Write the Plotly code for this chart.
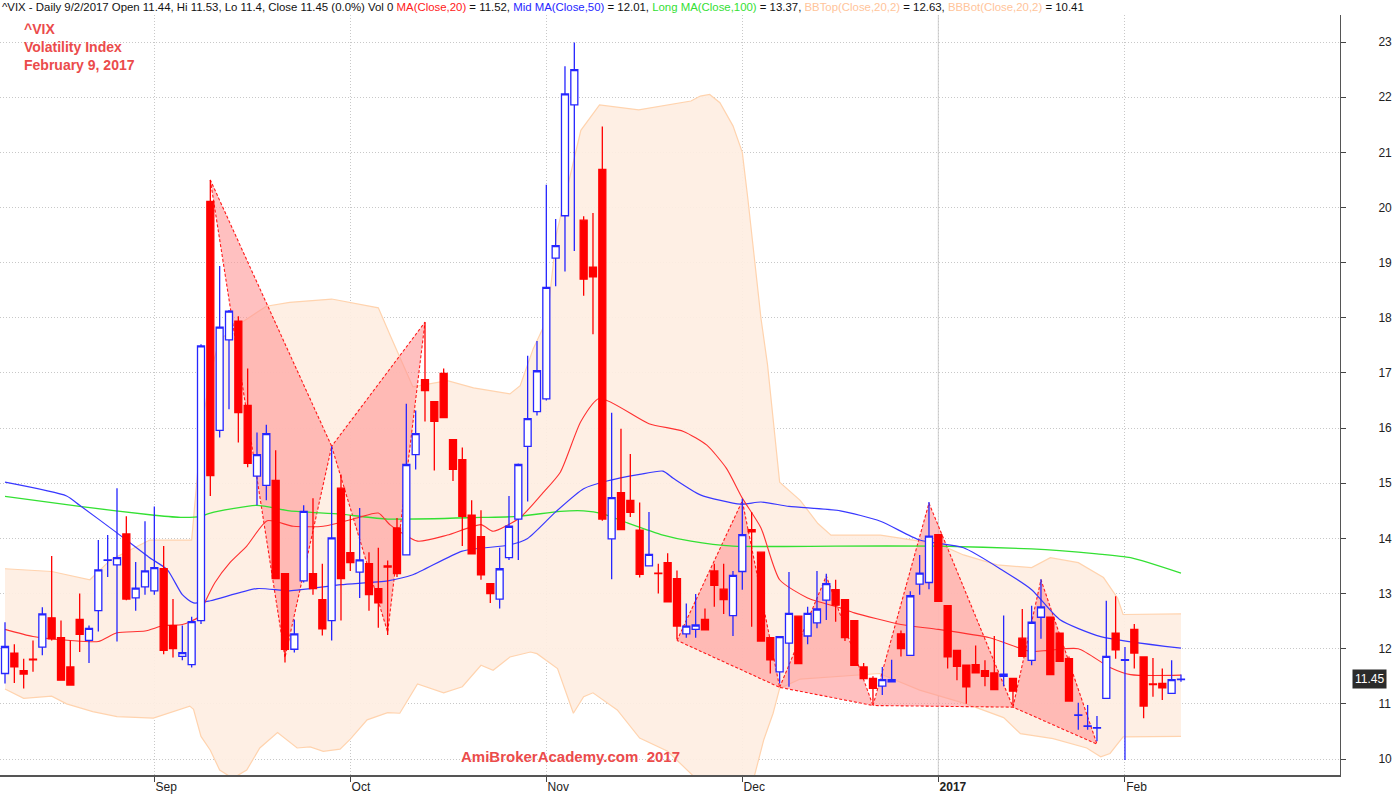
import plotly.graph_objects as go

# ---------------- data ----------------
dates = ["Aug10","Aug11","Aug12","Aug15","Aug16","Aug17","Aug18","Aug19","Aug22","Aug23",
         "Aug24","Aug25","Aug26","Aug29","Aug30","Aug31","Sep1","Sep2","Sep6","Sep7",
         "Sep8","Sep9","Sep12","Sep13","Sep14","Sep15","Sep16","Sep19","Sep20","Sep21",
         "Sep22","Sep23","Sep26","Sep27","Sep28","Sep29","Sep30","Oct3","Oct4","Oct5",
         "Oct6","Oct7","Oct10","Oct11","Oct12","Oct13","Oct14","Oct17","Oct18","Oct19",
         "Oct20","Oct21","Oct24","Oct25","Oct26","Oct27","Oct28","Oct31","Nov1","Nov2",
         "Nov3","Nov4","Nov7","Nov8","Nov9","Nov10","Nov11","Nov14","Nov15","Nov16",
         "Nov17","Nov18","Nov21","Nov22","Nov23","Nov25","Nov28","Nov29","Nov30","Dec1",
         "Dec2","Dec5","Dec6","Dec7","Dec8","Dec9","Dec12","Dec13","Dec14","Dec15",
         "Dec16","Dec19","Dec20","Dec21","Dec22","Dec23","Dec27","Dec28","Dec29","Dec30",
         "Jan3","Jan4","Jan5","Jan6","Jan9","Jan10","Jan11","Jan12","Jan13","Jan17",
         "Jan18","Jan19","Jan20","Jan23","Jan24","Jan25","Jan26","Jan27","Jan30","Jan31",
         "Feb1","Feb2","Feb3","Feb6","Feb7","Feb8","Feb9"]

opens = [11.55,11.92,11.60,11.81,12.03,12.56,12.20,11.67,12.53,12.15,
         12.69,13.60,13.52,14.08,12.92,13.12,13.05,13.45,12.42,11.86,
         11.71,12.51,20.11,15.96,17.60,17.94,16.41,15.13,14.96,15.05,
         13.36,11.99,13.23,13.36,12.89,12.51,14.91,13.74,13.39,13.54,
         13.09,13.50,14.19,13.70,15.52,16.88,16.48,16.99,15.79,15.43,
         14.42,14.03,13.18,12.90,13.65,14.35,15.67,16.30,16.53,19.08,
         19.85,21.86,19.77,18.92,20.69,13.99,14.83,14.69,14.15,13.50,
         13.37,13.56,13.27,12.27,12.35,12.53,13.41,13.08,12.60,13.40,
         14.16,13.75,12.20,11.58,12.10,12.59,12.23,12.47,12.88,13.07,
         12.89,12.51,11.67,11.46,11.32,11.40,12.27,11.88,13.17,13.20,
         14.07,12.78,11.97,11.70,11.71,11.60,11.56,11.50,11.46,12.19,
         11.79,12.57,12.57,12.28,11.82,10.79,10.59,10.56,11.10,12.28,
         11.79,12.35,11.85,11.36,11.37,11.19,11.44]
highs = [12.48,12.08,11.82,12.15,12.75,13.68,12.51,12.15,13.00,12.42,
         13.97,14.06,14.91,14.40,13.57,14.31,14.58,13.86,12.90,12.42,
         12.58,17.52,20.50,18.94,18.14,18.03,17.08,15.92,16.06,15.60,
         13.36,12.53,14.60,14.73,13.54,15.67,15.16,14.42,14.55,13.75,
         13.83,13.60,14.37,16.44,16.32,17.92,16.48,17.08,15.79,15.65,
         14.69,14.51,13.18,13.83,14.77,15.36,17.31,17.58,20.41,19.79,
         22.56,22.99,19.84,19.90,21.47,16.28,15.99,15.53,14.65,14.48,
         13.54,13.73,13.42,12.82,12.99,12.73,13.54,13.54,13.41,14.72,
         14.48,13.75,12.20,12.23,13.39,12.59,12.76,13.41,13.36,13.25,
         12.89,12.51,11.74,11.50,11.67,11.80,12.33,13.04,13.70,14.66,
         14.07,12.78,11.97,11.70,12.06,11.79,12.23,12.60,11.46,12.72,
         12.78,13.26,12.57,12.28,11.86,11.02,10.98,10.78,12.87,12.95,
         12.03,12.45,11.85,11.83,11.64,11.79,11.53]
lows = [11.37,11.38,11.28,11.58,11.88,12.15,11.43,11.34,11.94,11.74,
        12.31,13.30,12.13,12.88,12.69,12.98,12.98,11.90,11.84,11.79,
        11.66,12.45,14.77,15.83,16.34,15.74,15.29,14.60,14.69,13.27,
        11.75,11.93,13.20,12.98,12.24,12.15,12.51,13.41,12.92,12.69,
        12.38,12.25,13.30,13.70,15.25,16.12,15.23,16.19,15.04,13.86,
        13.72,13.25,12.83,12.73,13.61,13.61,14.67,16.23,16.50,18.57,
        18.84,19.21,18.40,17.70,14.32,13.26,14.16,14.39,13.29,13.50,
        13.00,12.85,12.17,12.20,12.20,12.34,12.76,12.63,12.23,13.07,
        12.40,12.14,11.55,11.37,11.31,11.73,12.08,12.37,12.52,12.49,
        12.14,11.70,11.44,11.02,11.16,11.40,11.86,11.88,12.98,13.08,
        12.86,11.64,11.43,11.00,11.56,11.32,11.26,11.32,10.96,11.86,
        11.70,12.18,11.53,11.77,11.05,10.53,10.53,10.32,11.10,11.82,
        9.98,11.64,10.74,11.13,11.07,11.19,11.40]
closes = [12.04,11.67,11.54,11.80,12.63,12.18,11.43,11.34,12.26,12.37,
          13.43,13.61,13.65,12.90,13.10,13.41,13.47,11.97,12.00,11.93,
          12.49,17.49,15.14,17.83,18.12,16.28,15.36,15.52,15.90,13.27,
          11.99,12.27,14.49,13.09,12.36,14.01,13.27,13.56,13.61,12.98,
          12.83,13.48,13.36,15.34,15.90,16.68,16.12,16.19,15.25,14.40,
          13.72,13.34,13.00,13.45,14.22,15.34,16.17,17.04,18.55,19.31,
          22.06,22.50,18.70,18.74,14.35,14.74,14.16,14.47,13.35,13.71,
          13.36,12.85,12.41,12.41,12.43,12.34,13.15,12.89,13.33,14.07,
          14.12,12.14,11.80,12.22,12.64,11.73,12.64,12.72,13.18,12.79,
          12.20,11.70,11.46,11.28,11.44,11.44,12.00,12.96,13.37,14.04,
          12.86,11.85,11.68,11.31,11.56,11.50,11.26,11.54,11.23,11.86,
          12.48,12.76,11.53,11.77,11.05,10.80,10.60,10.57,11.86,11.98,
          11.80,11.92,10.96,11.35,11.29,11.44,11.45]

# moving averages and Bollinger bands, sampled along the curves (bar index, value)
ma20_x = [0,3,7,10,12,15,17,19,20.7,21.5,22.5,24.1,25.9,28.1,30.9,34.1,37.7,40,41.3,44.2,47.4,51,52.3,55.2,57.5,59.5,61.7,63.7,69,72.7,75.2,77.3,79,81,83,86,89.5,91,96,100,105.5,109.9,111.8,115,118.4,120.6,126]
ma20_y = [12.35,12.22,12.15,12.13,12.29,12.32,12.42,12.44,12.57,12.87,13.2,13.56,13.86,14.32,14.22,14.22,14.37,14.46,14.24,13.95,14.06,14.25,14.13,14.38,14.8,15.2,16.12,16.54,16.08,15.94,15.69,15.27,14.73,14.19,13.25,12.92,12.74,12.65,12.44,12.35,12.2,11.95,11.97,12.0,11.66,11.53,11.52]

ma50_x = [0,6.6,8,12,15.5,17.4,19,20.2,22,27,30.5,36,41,43.7,49,54,56,59,62,64.5,68,70.5,71.6,74.5,78.8,81,84,89.5,93.8,98,102.7,107,110,113,117.4,126]
ma50_y = [15.02,14.77,14.6,14.1,13.65,13.43,12.98,12.83,12.87,13.09,13.05,13.16,13.23,13.34,13.77,13.88,14.0,14.48,14.9,15.04,15.16,15.22,15.09,14.79,14.62,14.66,14.58,14.5,14.31,13.97,13.83,13.41,13.07,12.53,12.22,12.01]

ma100_x = [0,8,16,19,21,22,27,30.5,36,41,51,55,59.5,62,64,66.7,70.5,73.5,78,89,100,110,113,117,120.6,126]
ma100_y = [14.76,14.58,14.42,14.38,14.4,14.46,14.6,14.5,14.44,14.35,14.38,14.4,14.49,14.5,14.45,14.28,14.06,13.95,13.86,13.86,13.86,13.81,13.78,13.72,13.65,13.37]

bbtop_x = [0,5,9.1,11.3,15.5,20,21,22,23,25.4,28,30.5,35,37,40,41.3,43.7,47.4,50.2,54.1,55.2,56.6,58.1,59.1,61.7,63.7,67.9,73.5,74.5,75.5,76.6,78,79,79.6,80.4,81,81.7,82.3,83,85.2,87.1,88.5,93.8,98,100,102.7,106.3,110,112,115,117.7,119.2,119.8,126]
bbtop_y = [13.45,13.4,13.25,13.61,13.97,13.97,15.9,17.0,17.6,17.92,18.21,18.28,18.34,18.28,18.18,17.67,16.75,16.86,16.73,16.62,16.77,17.44,17.98,19.53,21.4,21.86,21.77,21.93,22.02,22.05,21.9,21.48,21.0,20.15,18.95,17.99,17.15,16.19,15.02,14.69,14.27,14.06,14.06,13.95,13.9,13.7,13.52,13.47,13.65,13.56,13.29,12.92,12.62,12.63]

bbbot_x = [0,2,5,6.6,9.4,12,15.9,17.4,19.8,20.2,21,22,23,24.4,25.9,27.3,29.2,31.3,32.7,34.1,35.9,37,38.8,41,42.3,44.2,47,49,51,52.3,54.1,56.3,57,59.2,60.9,62,63,65.6,68,71,73.7,76,78,80,81.3,82.3,83,85.2,89,93.7,98,103,107,108.8,112.3,115.9,117.4,118.4,119.8,126]
bbbot_y = [11.27,11.1,11.14,11.0,10.86,10.77,10.74,10.83,10.96,10.9,10.41,10.16,9.8,9.65,9.8,10.2,10.48,10.2,10.22,10.14,10.18,10.36,10.71,10.84,10.83,11.36,11.2,11.31,11.7,11.61,11.85,11.94,11.91,11.64,10.83,11.13,11.2,10.89,10.38,10.14,9.7,9.2,9.0,9.5,10.35,10.83,11.28,11.45,11.5,11.55,11.25,11.0,10.75,10.46,10.37,10.2,10.04,10.1,10.4,10.41]

# chart-pattern pivot points (bar index, value)
pat1_x = [22, 30, 35, 41, 45]
pat1_y = [20.5, 11.84, 15.67, 12.3, 17.92]
pat2_x = [72, 79, 83, 88, 93, 99, 108, 111, 117]
pat2_y = [12.15, 14.68, 11.3, 13.32, 10.97, 14.64, 10.94, 13.25, 10.27]

month_idx = [16, 37, 58, 79, 100, 120]
month_lbl = ["Sep", "Oct", "Nov", "Dec", "<b>2017</b>", "Feb"]
y_ticks = list(range(10, 24))

# ---------------- figure ----------------
n = len(closes)
xs = list(range(n))
fig = go.Figure()

# Bollinger band fill
fig.add_trace(go.Scatter(x=bbtop_x + bbbot_x[::-1], y=bbtop_y + bbbot_y[::-1],
                         fill="toself", fillcolor="rgba(254,238,226,0.92)",
                         line=dict(width=0), mode="lines", hoverinfo="skip"))
for bx, by in [(bbtop_x, bbtop_y), (bbbot_x, bbbot_y)]:
    fig.add_trace(go.Scatter(x=bx, y=by, mode="lines",
                             line=dict(color="#FFD3AE", width=1.2), hoverinfo="skip"))

# pattern triangles
tris = [(pat1_x, pat1_y, [0, 1, 2]), (pat1_x, pat1_y, [2, 3, 4])]
for k in range(0, len(pat2_x) - 2, 2):
    tris.append((pat2_x, pat2_y, [k, k + 1, k + 2]))
for ax, ay, ids in tris:
    tx = [ax[i] for i in ids] + [ax[ids[0]]]
    ty = [ay[i] for i in ids] + [ay[ids[0]]]
    fig.add_trace(go.Scatter(x=tx, y=ty, fill="toself", fillcolor="rgba(255,150,150,0.6)",
                             mode="lines", line=dict(color="#FF1A1A", width=1.1, dash="3px,2px"),
                             hoverinfo="skip"))

# moving averages
fig.add_trace(go.Scatter(x=ma100_x, y=ma100_y, mode="lines",
                         line=dict(color="#33E033", width=1.3, shape="spline", smoothing=0.6)))
fig.add_trace(go.Scatter(x=ma50_x, y=ma50_y, mode="lines",
                         line=dict(color="#3838FF", width=1.2, shape="spline", smoothing=0.6)))
fig.add_trace(go.Scatter(x=ma20_x, y=ma20_y, mode="lines",
                         line=dict(color="#FF3030", width=1.1, shape="spline", smoothing=0.6)))

# candles (on an overlaying axis pair so they are drawn above the filled areas)
fig.add_trace(go.Candlestick(x=xs, open=opens, high=highs, low=lows, close=closes,
                             xaxis="x2", yaxis="y2",
                             increasing=dict(line=dict(color="#2626FF", width=1.3), fillcolor="white"),
                             decreasing=dict(line=dict(color="#FF0000", width=1.3), fillcolor="#FF0000"),
                             whiskerwidth=0, hoverinfo="skip"))

# header text
hdr = ("^VIX - Daily 9/2/2017 Open {o}, Hi {h}, Lo {l}, Close {c} (0.0%) Vol 0 "
       "<span style='color:#FF2020'>MA(Close,20)</span> = {m20}, "
       "<span style='color:#2626FF'>Mid MA(Close,50)</span> = {m50}, "
       "<span style='color:#33E033'>Long MA(Close,100)</span> = {m100}, "
       "<span style='color:#FFC49A'>BBTop(Close,20,2)</span> = {bt}, "
       "<span style='color:#FFC49A'>BBBot(Close,20,2)</span> = {bb}").format(
    o=opens[-1], h=highs[-1], l=lows[-1], c=closes[-1], m20=ma20_y[-1], m50=ma50_y[-1],
    m100=ma100_y[-1], bt=bbtop_y[-1], bb=bbbot_y[-1])

annos = [
    dict(text=hdr, xref="paper", yref="paper", x=0.0, y=1.0, yshift=8, xanchor="left",
         yanchor="middle", showarrow=False, font=dict(family="Liberation Sans, Arial", size=11.4, color="#111")),
    dict(text="<b>^VIX<br>Volatility Index<br>February 9, 2017</b>", xref="paper", yref="paper",
         x=22 / 1340, y=1.0, yshift=-4, xanchor="left", yanchor="top", align="left", showarrow=False,
         font=dict(family="Liberation Sans, Arial", size=14, color="#EB4B4B")),
    dict(text="<b>AmiBrokerAcademy.com  2017</b>", xref="paper", yref="y", x=570 / 1340, y=10.05,
         xanchor="center", yanchor="middle", showarrow=False,
         font=dict(family="Liberation Sans, Arial", size=15, color="#EB4B4B")),
    dict(text=str(closes[-1]), xref="paper", yref="y", x=1369 / 1340, y=closes[-1],
         xanchor="center", yanchor="middle", showarrow=False, bgcolor="#2b2b2b",
         font=dict(family="Liberation Sans, Arial", size=12, color="white"), borderpad=2),
]

xr = [-0.536, 143.04]
yr = [9.71, 23.49]
grid_style = dict(showgrid=True, gridcolor="#C8C8C8", griddash="1px,2px", gridwidth=1)
fig.update_layout(
    width=1400, height=794, autosize=False,
    margin=dict(l=0, r=60, t=15, b=16),
    paper_bgcolor="white", plot_bgcolor="white",
    showlegend=False, annotations=annos, boxgap=0.25, boxgroupgap=0,
    shapes=[dict(type="line", xref="x", yref="paper", x0=100, x1=100, y0=0, y1=1,
                 line=dict(color="#CFCFCF", width=1), layer="below")],
    xaxis=dict(range=xr, rangeslider=dict(visible=False),
               tickmode="array", tickvals=month_idx, ticktext=month_lbl,
               ticks="outside", ticklen=5, tickcolor="#444",
               ticklabelposition="outside right",
               showline=True, linecolor="#555", linewidth=1.5, zeroline=False,
               tickfont=dict(family="Liberation Sans, Arial", size=12, color="#222"), **grid_style),
    yaxis=dict(side="right", range=yr, tickmode="array", tickvals=y_ticks,
               ticks="outside", ticklen=5, tickcolor="#444", ticklabelstandoff=30,
               showline=True, linecolor="#555", linewidth=1, zeroline=False,
               tickfont=dict(family="Liberation Sans, Arial", size=12, color="#222"), **grid_style),
    xaxis2=dict(overlaying="x", range=xr, visible=False, rangeslider=dict(visible=False),
                showgrid=False, zeroline=False),
    yaxis2=dict(overlaying="y", range=yr, visible=False, showgrid=False, zeroline=False),
)

fig.write_html("out.html", config={"displayModeBar": False},
               post_script="document.body.style.margin='0';document.body.style.overflow='hidden';")
